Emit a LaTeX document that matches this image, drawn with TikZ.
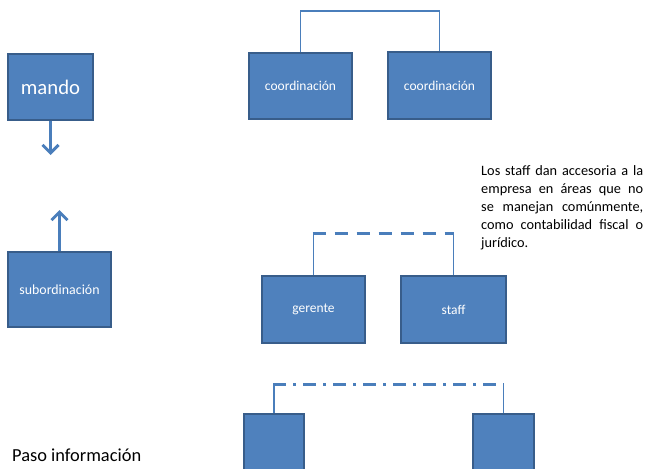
\documentclass[tikz,border=0pt]{standalone}
\usepackage{fontspec}
\setmainfont{Carlito}
\usetikzlibrary{arrows.meta}
\definecolor{boxfill}{HTML}{4F81BD}
\definecolor{boxline}{HTML}{385D8A}
\definecolor{conn}{HTML}{4A7EBB}
\tikzset{
  bluebox/.style={rectangle, fill=boxfill, draw=boxline, line width=1.3pt, text=white, inner sep=0pt, font=\fontsize{13.5}{16}\selectfont},
  thinconn/.style={draw=conn, line width=1.8pt},
  dashconn/.style={draw=conn, line width=3pt, dash pattern=on 13pt off 9pt},
  dotdashconn/.style={draw=conn, line width=3pt, dash pattern=on 13pt off 7pt on 3pt off 7pt},
  bigarrow/.style={draw=conn, line width=3pt, -{Straight Barb[length=8pt,width=16pt]}}
}
\begin{document}
\begin{tikzpicture}[x=1pt,y=-1pt]
\path[use as bounding box, clip] (0,0) rectangle (647,468);
\fill[white] (0,0) rectangle (647,468);
% boxes
\node[bluebox, minimum width=85pt, minimum height=66pt, font=\fontsize{20.7}{24}\selectfont] (m) at (50.5,87) {mando};
\node[bluebox, minimum width=103pt, minimum height=66pt] (c1) at (300.5,86) {coordinación};
\node[bluebox, minimum width=103pt, minimum height=67pt] (c2) at (439.5,85.5) {coordinación};
\node[bluebox, minimum width=103pt, minimum height=75pt, font=\fontsize{13.9}{16}\selectfont] (sub) at (59.5,289.5) {subordinación};
\node[bluebox, minimum width=103pt, minimum height=67pt] (g) at (313.5,309.5) {gerente};
\node[bluebox, minimum width=105pt, minimum height=67pt] (s) at (453.5,309.5) {staff};
\node[bluebox, minimum width=60pt, minimum height=66pt] (b1) at (274,447) {};
\node[bluebox, minimum width=61pt, minimum height=66pt] (b2) at (503.5,447) {};
% arrows
\coordinate (mend) at (50.5,155);
\coordinate (send) at (59.5,210);
\draw[bigarrow] (m.south) -- (mend);
\draw[bigarrow] (sub.north) -- (send);
% coordination connector
\coordinate (ctop) at (0,11);
\draw[thinconn] (c1.north) |- (c2.north |- ctop) -- (c2.north);
% gerente-staff
\coordinate (gtop) at (0,233);
\draw[thinconn] (g.north) -- (g.north |- gtop);
\draw[thinconn] (s.north) -- (s.north |- gtop);
\draw[dashconn] ([xshift=-0.9pt]g.north |- gtop) -- ([xshift=0.9pt]s.north |- gtop);
% bottom
\coordinate (btop) at (0,384);
\draw[thinconn] (b1.north) -- (b1.north |- btop);
\draw[thinconn] (b2.north) -- (b2.north |- btop);
\draw[dotdashconn] ([xshift=-0.9pt]b1.north |- btop) -- ([xshift=0.9pt]b2.north |- btop);
% texts
\node[anchor=north west, inner sep=0pt, text width=162pt, align=justify, font=\fontsize{14.3}{18.2}\selectfont] (note) at (481,165) {Los staff dan accesoria a la\linebreak empresa en áreas que no\linebreak se manejan comúnmente,\linebreak como contabilidad fiscal o\linebreak jurídico.};
\node[anchor=west, inner sep=0pt, font=\fontsize{18.4}{22}\selectfont] (paso) at (12,455) {Paso información};
\end{tikzpicture}
\end{document}
